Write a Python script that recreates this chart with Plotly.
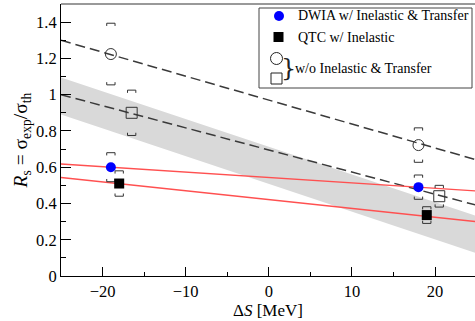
import plotly.graph_objects as go

W, H = 475, 321
ML, MR, MT, MB = 61, 0, 4, 45

# ---------------- data ----------------
x_range = [-25, 24.8]
y_range = [0, 1.5]

dwia_x = [-19, 18]
dwia_y = [0.60, 0.49]
dwia_err = [0.08, 0.067]

qtc_x = [-18, 19]
qtc_y = [0.51, 0.336]
qtc_err = [0.07, 0.046]

dwia0_x = [-19, 18]
dwia0_y = [1.224, 0.722]
dwia0_err = [0.17, 0.095]

qtc0_x = [-16.5, 20.5]
qtc0_y = [0.90, 0.44]
qtc0_err = [0.125, 0.06]

line_x = [-25, 25]
dwia0_fit = [1.30, 0.64]
qtc0_fit = [1.00, 0.39]
dwia_fit = [0.618, 0.469]
qtc_fit = [0.543, 0.30]
band_upper = [1.095, 0.33]
band_lower = [0.89, 0.125]

legend_labels = ["DWIA w/ Inelastic & Transfer", "QTC w/ Inelastic", "w/o Inelastic & Transfer"]

FONT = "Liberation Serif"

fig = go.Figure()

# gray band
fig.add_trace(go.Scatter(
    x=line_x + line_x[::-1], y=band_upper + band_lower[::-1],
    fill="toself", fillcolor="#d9d9d9", line=dict(width=0),
    mode="lines", hoverinfo="skip", showlegend=False))

# dashed fits
for fit in (dwia0_fit, qtc0_fit):
    fig.add_trace(go.Scatter(x=line_x, y=fit, mode="lines",
                             line=dict(color="#3a3a3a", width=1.5, dash="10px,5px"),
                             showlegend=False))
# red fits
for fit in (dwia_fit, qtc_fit):
    fig.add_trace(go.Scatter(x=line_x, y=fit, mode="lines",
                             line=dict(color="#ff5050", width=1.4),
                             showlegend=False))


def brackets(xs, ys, errs, hw=0.5, th=0.015):
    bx, by = [], []
    for x, y, e in zip(xs, ys, errs):
        top, bot = y + e, y - e
        bx += [x - hw, x - hw, x + hw, x + hw, None]
        by += [top - th, top, top, top - th, None]
        bx += [x - hw, x - hw, x + hw, x + hw, None]
        by += [bot + th, bot, bot, bot + th, None]
    return bx, by


for xs, ys, es in ((dwia_x, dwia_y, dwia_err), (qtc_x, qtc_y, qtc_err),
                   (dwia0_x, dwia0_y, dwia0_err), (qtc0_x, qtc0_y, qtc0_err)):
    bx, by = brackets(xs, ys, es)
    fig.add_trace(go.Scatter(x=bx, y=by, mode="lines",
                             line=dict(color="#333333", width=1), showlegend=False))

# markers
fig.add_trace(go.Scatter(x=dwia0_x, y=dwia0_y, mode="markers",
                         marker=dict(symbol="circle-open", size=11, color="#333333",
                                     line=dict(width=1)), showlegend=False))
fig.add_trace(go.Scatter(x=qtc0_x, y=qtc0_y, mode="markers",
                         marker=dict(symbol="square-open", size=11, color="#333333",
                                     line=dict(width=1)), showlegend=False))
fig.add_trace(go.Scatter(x=dwia_x, y=dwia_y, mode="markers",
                         marker=dict(symbol="circle", size=10, color="#0000ff",
                                     line=dict(width=0)), showlegend=False))
fig.add_trace(go.Scatter(x=qtc_x, y=qtc_y, mode="markers",
                         marker=dict(symbol="square", size=10, color="#000000",
                                     line=dict(width=0)), showlegend=False))

# ---------------- manual legend ----------------
PW = W - ML - MR
PH = H - MT - MB


def px(xp):
    return (xp - ML) / PW


def py(yp):
    return (H - MB - yp) / PH


shapes = []
# top frame line
shapes.append(dict(type="line", xref="paper", yref="paper", x0=0, x1=1, y0=1, y1=1,
                   line=dict(color="#999999", width=2)))
# legend box
shapes.append(dict(type="rect", xref="paper", yref="paper",
                   x0=px(259), x1=px(472), y0=py(88), y1=py(8),
                   line=dict(color="#444444", width=1), fillcolor="white"))


def sym(kind, cx, cy, r, fill, line_w):
    return dict(type=kind, xref="paper", yref="paper",
                x0=px(cx - r), x1=px(cx + r), y0=py(cy + r), y1=py(cy - r),
                fillcolor=fill, line=dict(color="#222222" if line_w else fill, width=line_w))


shapes.append(sym("circle", 279, 16, 5, "#0000ff", 0))
shapes.append(sym("rect", 278.5, 37, 5, "#000000", 0))
shapes.append(sym("circle", 276.5, 58.5, 6, "rgba(0,0,0,0)", 1))
shapes.append(sym("rect", 276.5, 78.5, 5.5, "rgba(0,0,0,0)", 1))

annotations = []
for label, ypix, xpix in ((legend_labels[0], 16, 296), (legend_labels[1], 37, 296),
                          (legend_labels[2], 68, 293)):
    annotations.append(dict(text=label, xref="paper", yref="paper", x=px(xpix), y=py(ypix),
                            xanchor="left", yanchor="middle", showarrow=False,
                            font=dict(family=FONT, size=14, color="black")))
annotations.append(dict(text="}", xref="paper", yref="paper", x=px(288.5), y=py(68),
                        xanchor="center", yanchor="middle", showarrow=False,
                        font=dict(family="DejaVu Serif", size=24, color="#222222")))

fig.update_layout(
    width=W, height=H,
    margin=dict(l=ML, r=MR, t=MT, b=MB),
    paper_bgcolor="white", plot_bgcolor="white",
    font=dict(family=FONT, color="black"),
    shapes=shapes, annotations=annotations,
    showlegend=False,
)

fig.update_xaxes(
    range=x_range, showgrid=False, zeroline=False,
    showline=True, linecolor="black", linewidth=1,
    ticks="inside", ticklen=9, tickwidth=1, tickcolor="black",
    dtick=10, tick0=0,
    minor=dict(ticks="inside", ticklen=4, dtick=5, tickcolor="black", showgrid=False),
    tickfont=dict(family=FONT, size=16.5, color="black"),
    title=dict(text="Δ<i>S</i> [MeV]", font=dict(family=FONT, size=17, color="black"), standoff=2),
)
fig.update_yaxes(
    range=y_range, showgrid=False, zeroline=False,
    showline=True, linecolor="black", linewidth=1,
    ticks="inside", ticklen=10, tickwidth=1, tickcolor="black",
    dtick=0.2, tick0=0,
    minor=dict(ticks="inside", ticklen=5, dtick=0.1, tickcolor="black", showgrid=False),
    tickfont=dict(family=FONT, size=16.5, color="black"),
    title=dict(text="<i>R</i><sub>s</sub> = σ<sub>exp</sub>/σ<sub>th</sub>",
               font=dict(family=FONT, size=19.5, color="black"), standoff=3),
)

fig.write_html(
    "out.html",
    config={"displayModeBar": False},
    post_script="document.body.style.margin='0';document.body.style.padding='0';"
                "document.documentElement.style.overflow='hidden';",
)
